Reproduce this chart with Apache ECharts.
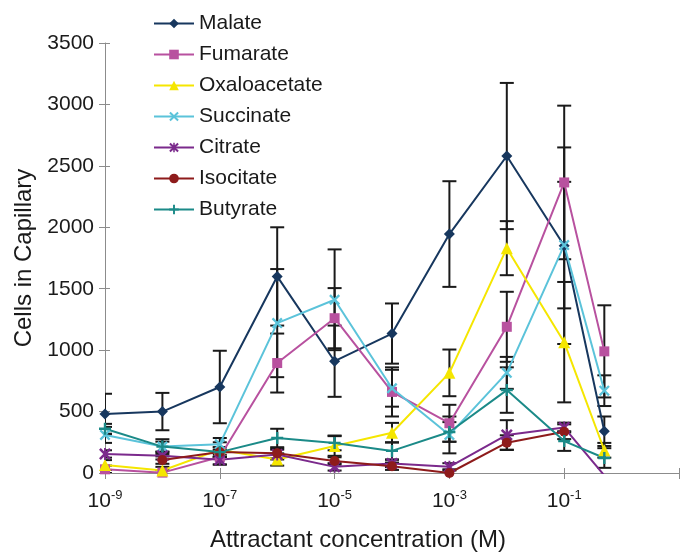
<!DOCTYPE html>
<html>
<head>
<meta charset="utf-8">
<script src="https://cdn.jsdelivr.net/npm/echarts@6/dist/echarts.min.js"></script>
<style>
  html, body { margin: 0; padding: 0; background: #fff; }
  #chart { width: 680px; height: 555px; }
</style>
</head>
<body>
<div id="chart"></div>
<script>
// concentrations (M)
const conc = [1e-9, 1e-8, 1e-7, 1e-6, 1e-5, 1e-4, 1e-3, 1e-2, 1e-1, 0.5];

const malate = [480, 500, 700, 1600, 910, 1135, 1945, 2580, 1850, 340];
const malateErr = [165, 152, 295, 400, 290, 245, 430, 595, 800, 120];

const fumarate = [30, 3, 130, 895, 1260, 660, 405, 1190, 2365, 990];
const fumarateErr = [30, 20, 60, 240, 245, 200, 150, 285, 625, 375];

const oxaloacetate = [65, 20, 190, 110, 220, 328, 815, 1830, 1065, 185];
const oxaloacetateErr = [40, 30, 60, 50, 80, 80, 190, 220, 490, 60];

const succinate = [310, 215, 235, 1220, 1410, 690, 310, 815, 1855, 670];
const succinateErr = [65, 60, 50, 440, 410, 150, 150, 130, 515, 125];

const citrate = [155, 140, 108, 150, 50, 78, 50, 310, 370, -20];
const citrateErr = [30, 30, 40, 40, 30, 30, 30, 120, 40, 0];

const isocitate = [null, 105, 170, 160, 98, 55, 0, 247, 336, null];
const isocitateErr = [0, 30, 40, 40, 30, 30, 30, 60, 60, 0];

const butyrate = [360, 215, 170, 285, 245, 180, 334, 675, 260, 122];
const butyrateErr = [40, 40, 40, 75, 60, 70, 80, 185, 80, 80];

const names = ['Malate', 'Fumarate', 'Oxaloacetate', 'Succinate', 'Citrate', 'Isocitate', 'Butyrate'];
const values = [malate, fumarate, oxaloacetate, succinate, citrate, isocitate, butyrate];
const errors = [malateErr, fumarateErr, oxaloacetateErr, succinateErr, citrateErr, isocitateErr, butyrateErr];
const colors = ['#17375e', '#b8519f', '#f5e600', '#5bc3da', '#7b2a8c', '#8e1b1b', '#1b8a88'];

const yTicks = [0, 3500, 500]; // min, max, interval

// marker shapes
const PLUS = 'path://M4,0 H6 V4 H10 V6 H6 V10 H4 V6 H0 V4 H4 Z';
const CROSS = 'path://M0,1.5 L1.5,0 L5,3.5 L8.5,0 L10,1.5 L6.5,5 L10,8.5 L8.5,10 L5,6.5 L1.5,10 L0,8.5 L3.5,5 Z';
const STAR = 'path://M0,1.5 L1.5,0 L5,3.5 L8.5,0 L10,1.5 L6.5,5 L10,8.5 L8.5,10 L5,6.5 L1.5,10 L0,8.5 L3.5,5 Z M4.2,0 H5.8 V10 H4.2 Z';
const symbols = ['diamond', 'rect', 'triangle', CROSS, STAR, 'circle', PLUS];
const symbolSizes = [11, 10, 12, 11, 12, 10, 12];

const FONT = '"Liberation Sans", Arial, sans-serif';
const AXIS_GREY = '#8c8c8c';

// x is plotted as log10(conc) shifted so the axis starts at 0
const xOf = c => Math.log10(c) + 9;

const lineSeries = names.map((n, i) => ({
  name: n,
  type: 'line',
  data: conc.map((c, j) => [xOf(c), values[i][j]]),
  symbol: symbols[i],
  symbolSize: symbolSizes[i],
  color: colors[i],
  lineStyle: { width: 2, color: colors[i] },
  itemStyle: { color: colors[i] },
  connectNulls: false,
  z: 3
}));

const errData = [];
names.forEach((n, i) => {
  conc.forEach((c, j) => {
    if (values[i][j] != null && errors[i][j] > 0) {
      errData.push([xOf(c), values[i][j], errors[i][j]]);
    }
  });
});

const errSeries = {
  type: 'custom',
  data: errData,
  encode: { x: 0, y: 1 },
  clip: true,
  z: 2,
  silent: true,
  renderItem(params, api) {
    const x = api.value(0), y = api.value(1), e = api.value(2);
    const top = api.coord([x, y + e]);
    const bot = api.coord([x, y - e]);
    const w = 7;
    const style = { stroke: '#1a1a1a', lineWidth: 2 };
    return {
      type: 'group',
      children: [
        { type: 'line', shape: { x1: top[0], y1: top[1], x2: bot[0], y2: bot[1] }, style },
        { type: 'line', shape: { x1: top[0] - w, y1: top[1], x2: top[0] + w, y2: top[1] }, style },
        { type: 'line', shape: { x1: bot[0] - w, y1: bot[1], x2: bot[0] + w, y2: bot[1] }, style }
      ]
    };
  }
};

/* inner half of the tick marks, so ticks cross the axis lines */
const innerX = {
  type: 'value', min: 0, max: 10, interval: 2, position: 'bottom',
  axisLine: { show: false }, axisLabel: { show: false }, splitLine: { show: false },
  axisTick: { show: true, inside: true, length: 5, lineStyle: { color: AXIS_GREY } }
};
const innerY = {
  type: 'value', min: yTicks[0], max: yTicks[1], interval: yTicks[2], position: 'left',
  axisLine: { show: false }, axisLabel: { show: false }, splitLine: { show: false },
  axisTick: { show: true, inside: true, length: 5, lineStyle: { color: AXIS_GREY } }
};

const chart = echarts.init(document.getElementById('chart'));
chart.setOption({
  animation: false,
  backgroundColor: '#fff',
  textStyle: { fontFamily: FONT },
  grid: { left: 105, right: 1, top: 43, bottom: 82, containLabel: false, outerBoundsMode: 'none' },
  legend: {
    data: names,
    orient: 'vertical',
    left: 153,
    top: 13,
    padding: 0,
    itemWidth: 40,
    itemHeight: 12,
    itemGap: 10,
    textStyle: { fontSize: 21, color: '#1a1a1a', fontFamily: FONT }
  },
  xAxis: [{
    type: 'value',
    min: 0,
    max: 10,
    interval: 2,
    position: 'bottom',
    splitLine: { show: false },
    axisLine: { lineStyle: { color: AXIS_GREY, width: 1 } },
    axisTick: { length: 6, lineStyle: { color: AXIS_GREY } },
    axisLabel: {
      margin: 16,
      color: '#1a1a1a',
      formatter: v => v >= 10 ? '' : '{b|10}{s|' + (v - 9) + '}',
      rich: {
        b: { fontSize: 21, lineHeight: 24, fontFamily: FONT, color: '#1a1a1a' },
        s: { fontSize: 13, lineHeight: 13, verticalAlign: 'top', fontFamily: FONT, color: '#1a1a1a' }
      }
    },
    name: 'Attractant concentration (M)',
    nameLocation: 'middle',
    nameGap: 55,
    nameTextStyle: { fontSize: 24, color: '#1a1a1a', fontFamily: FONT, padding: [0, 68, 0, 0] }
  }, innerX],
  yAxis: [{
    type: 'value',
    min: yTicks[0],
    max: yTicks[1],
    interval: yTicks[2],
    position: 'left',
    splitLine: { show: false },
    axisLine: { show: true, lineStyle: { color: AXIS_GREY, width: 1 } },
    axisTick: { show: true, length: 6, lineStyle: { color: AXIS_GREY } },
    axisLabel: { margin: 11, fontSize: 21, color: '#1a1a1a', fontFamily: FONT, formatter: v => String(v) },
    name: 'Cells in Capillary',
    nameLocation: 'middle',
    nameGap: 59,
    nameTextStyle: { fontSize: 24, color: '#1a1a1a', fontFamily: FONT }
  }, innerY],
  series: [errSeries, ...lineSeries]
});
</script>
</body>
</html>
